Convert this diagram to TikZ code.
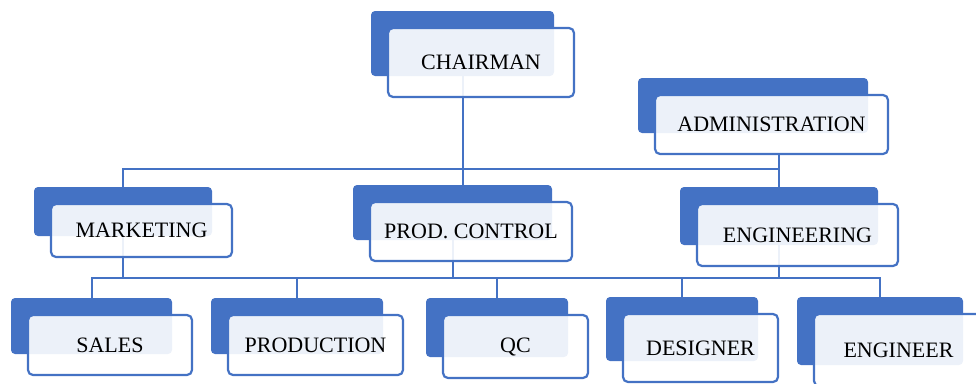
\documentclass[tikz,border=0pt]{standalone}
\usepackage{fontspec}
\setmainfont{Liberation Serif}
\usetikzlibrary{backgrounds}
\definecolor{boxblue}{HTML}{4472C4}

\begin{document}
\begin{tikzpicture}[x=1pt, y=-1pt, font=\fontsize{22}{26}\selectfont]
	\tikzstyle{back} = [fill=boxblue, rounded corners=4pt, inner sep=0pt]
	\tikzstyle{front} = [draw=boxblue, line width=2.2pt, fill=white, fill opacity=0.9, text opacity=1, rounded corners=5pt, inner sep=0pt]
	\tikzstyle{wire} = [draw=boxblue, line width=2pt]

	\useasboundingbox (0,0) rectangle (976,383);

	\foreach \n/\x/\y/\w/\h/\t in {
		chair/462.5/43.5/183/65/CHAIRMAN,
		adm/753/105.5/230/55/ADMINISTRATION,
		mkt/123/211.5/178/49/MARKETING,
		prod/452.5/212.5/199/55/PROD. CONTROL,
		eng/779/216/198/58/ENGINEERING,
		sales/91.5/326/161/56/SALES,
		pdn/297/326/172/56/PRODUCTION,
		qc/497/327.5/142/59/QC,
		des/682/329/152/64/DESIGNER,
		engr/880/331/166/68/ENGINEER}
	{
		\node[back, minimum width=\w pt, minimum height=\h pt] (b-\n) at (\x,\y) {};
		\node[front, minimum width=\w pt+3pt, minimum height=\h pt+4pt] (\n) at ([shift={(18.5,19)}]b-\n.center) {\t};
	}

	\begin{scope}[on background layer]
		\coordinate (top) at (0,169);
		\coordinate (low) at (0,278);
		\path[wire]
			(b-chair.south) -- (b-chair.south |- b-prod.north)
			(b-mkt.north) |- (top -| b-eng.north)
			(adm.south -| b-eng.north) -- (b-eng.north)
			(b-sales.north) |- (low -| b-engr.north) -- (b-engr.north)
		;
		\foreach \n in {mkt, prod, eng}
			\draw[wire] (b-\n.south) -- (b-\n.south |- low);
		\foreach \n in {pdn, qc, des}
			\draw[wire] (b-\n.north) -- (b-\n.north |- low);
	\end{scope}
\end{tikzpicture}
\end{document}
